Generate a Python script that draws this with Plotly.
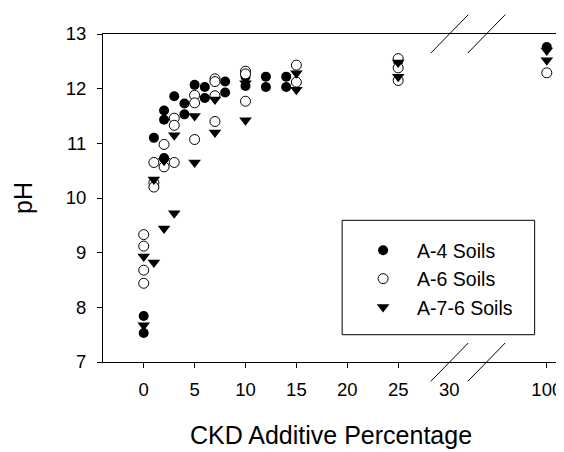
import plotly.graph_objects as go

# ---- data ----
x_a4 = [0, 0, 1, 2, 2, 2, 3, 4, 4, 5, 6, 6, 8, 8, 10, 10, 12, 12, 14, 14, 25, 100]
y_a4 = [7.84, 7.53, 11.10, 11.60, 11.43, 10.73, 11.86, 11.73, 11.53, 12.07, 12.03, 11.83,
        12.13, 11.93, 12.22, 12.05, 12.22, 12.03, 12.22, 12.03, 12.50, 12.76]

x_a6 = [0, 0, 0, 0, 1, 1, 1, 2, 2, 3, 3, 3, 5, 5, 5, 7, 7, 7, 7, 10, 10, 10, 15, 15, 25, 25, 25, 100]
y_a6 = [9.33, 9.12, 8.68, 8.44, 10.65, 10.28, 10.20, 10.98, 10.57, 11.46, 11.33, 10.65,
        11.88, 11.74, 11.07, 12.18, 12.13, 11.87, 11.40, 12.32, 12.27, 11.77, 12.43, 12.12,
        12.55, 12.38, 12.15, 12.29]

x_a76 = [0, 0, 1, 1, 2, 2, 3, 3, 5, 5, 7, 7, 10, 10, 15, 15, 25, 25, 100, 100]
y_a76 = [8.93, 7.67, 10.34, 8.82, 10.68, 9.44, 11.15, 9.72, 11.50, 10.65, 11.80, 11.20,
         12.10, 11.42, 12.28, 11.98, 12.48, 12.22, 12.70, 12.52]

series_names = ["A-4 Soils", "A-6 Soils", "A-7-6 Soils"]
x_tick_values = [0, 5, 10, 15, 20, 25, 100]
x_tick_labels = ["0", "5", "10", "15", "20", "25", "100"]
y_tick_values = [7, 8, 9, 10, 11, 12, 13]

# broken x axis: values up to 30 are linear, 100 is drawn just after the break
BREAK_POS = 39.6


def xpos(v):
    return v if v <= 30 else BREAK_POS


FONT = "Arial, Liberation Sans, sans-serif"

fig = go.Figure()
fig.add_trace(go.Scatter(
    x=[xpos(v) for v in x_a4], y=y_a4, mode="markers", name=series_names[0],
    marker=dict(symbol="circle", size=10, color="black", line=dict(width=0))))
fig.add_trace(go.Scatter(
    x=[xpos(v) for v in x_a6], y=y_a6, mode="markers", name=series_names[1],
    marker=dict(symbol="circle", size=10, color="white", line=dict(width=1, color="black"))))
fig.add_trace(go.Scatter(
    x=[xpos(v) for v in x_a76], y=y_a76, mode="markers", name=series_names[2],
    marker=dict(symbol="triangle-down", size=11, color="black", line=dict(width=0))))

# legend frame
fig.add_shape(type="rect", xref="paper", yref="paper", x0=0.5244, x1=0.9466, y0=0.0832, y1=0.432,
              line=dict(color="black", width=1), fillcolor="rgba(0,0,0,0)")

# axis-break marks
for (xa, xb) in [(0.719, 0.801), (0.800, 0.882)]:
    fig.add_shape(type="line", xref="paper", yref="paper", x0=xa, x1=xb, y0=0.942, y1=1.0588,
                  line=dict(color="black", width=1))
    fig.add_shape(type="line", xref="paper", yref="paper", x0=xa, x1=xb, y0=-0.0588, y1=0.058,
                  line=dict(color="black", width=1))

# "30" label sits at the break (no tick there)
fig.add_annotation(x=30, y=0, xref="x", yref="paper", text="30", showarrow=False,
                   yanchor="top", yshift=-15, font=dict(family=FONT, size=18.5, color="black"))

fig.update_layout(
    width=564, height=452,
    margin=dict(l=95, r=10, t=26, b=98),
    paper_bgcolor="white", plot_bgcolor="white",
    font=dict(family=FONT, color="black"),
    showlegend=True,
    legend=dict(x=0.5397, y=0.399, xanchor="left", yanchor="top",
                bgcolor="rgba(0,0,0,0)", borderwidth=0,
                font=dict(family=FONT, size=19.5, color="black"),
                itemwidth=58, tracegroupgap=0),
    xaxis=dict(range=[-4, 40.8], tickmode="array",
               tickvals=[xpos(v) for v in x_tick_values], ticktext=x_tick_labels,
               ticks="outside", ticklen=5, tickcolor="black", tickwidth=1,
               ticklabelstandoff=6,
               showline=True, linecolor="black", linewidth=1, mirror=True,
               showgrid=False, zeroline=False,
               tickfont=dict(family=FONT, size=18.5, color="black"),
               title=dict(text="CKD Additive Percentage", standoff=27,
                          font=dict(family=FONT, size=25, color="black"))),
    yaxis=dict(range=[7, 13], tickmode="array", tickvals=y_tick_values,
               ticks="outside", ticklen=5, tickcolor="black", tickwidth=1,
               ticklabelstandoff=7,
               showline=True, linecolor="black", linewidth=1, mirror=True,
               showgrid=False, zeroline=False,
               tickfont=dict(family=FONT, size=18.5, color="black"),
               title=dict(text="pH", standoff=25,
                          font=dict(family=FONT, size=25, color="black"))),
)

fig.write_html("out.html")
